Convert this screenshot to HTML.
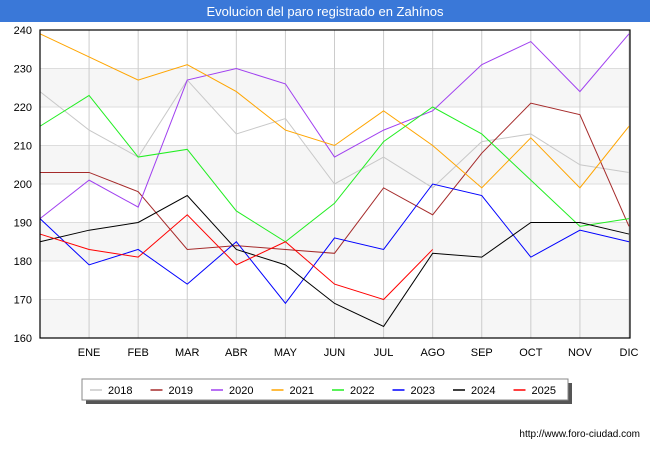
<!DOCTYPE html>
<html><head><meta charset="utf-8"><style>
body{margin:0;width:650px;height:450px;background:#fff;font-family:"Liberation Sans",sans-serif;overflow:hidden}
</style></head><body>
<svg id="c" width="650" height="450" xmlns="http://www.w3.org/2000/svg">
<rect x="0" y="0" width="650" height="22" fill="#3a78d8"/>
<text x="325" y="16" text-anchor="middle" font-size="13" fill="#fff">Evolucion del paro registrado en Zahínos</text>
<g id="grid"></g><g id="lines"></g>
<rect x="40" y="30" width="590" height="308" fill="none" stroke="#000" stroke-width="1.2"/>
<g id="axes"></g>
<rect x="86" y="383" width="486" height="21" fill="#555"/>
<rect x="82" y="379" width="486" height="21" fill="#fff" stroke="#888"/>
<g id="legend"></g>
<text x="640" y="437" text-anchor="end" font-size="10" fill="#000">http://www.foro-ciudad.com</text>
</svg>
<script>
const months=["","ENE","FEB","MAR","ABR","MAY","JUN","JUL","AGO","SEP","OCT","NOV","DIC"];
const yTicks=[160,170,180,190,200,210,220,230,240];
const years=["2018","2019","2020","2021","2022","2023","2024","2025"];
const colors=["#c8c8c8","#a52a2a","#a040f0","#ffa500","#22ee22","#0000ff","#000000","#ff0000"];
const s2018=[224,214,207,227,213,217,200,207,199,211,213,205,203];
const s2019=[203,203,198,183,184,183,182,199,192,208,221,218,189];
const s2020=[191,201,194,227,230,226,207,214,219,231,237,224,239];
const s2021=[239,233,227,231,224,214,210,219,210,199,212,199,215];
const s2022=[215,223,207,209,193,185,195,211,220,213,201,189,191];
const s2023=[191,179,183,174,185,169,186,183,200,197,181,188,185];
const s2024=[185,188,190,197,183,179,169,163,182,181,190,190,187];
const s2025=[187,183,181,192,179,185,174,170,183];
const series=[s2018,s2019,s2020,s2021,s2022,s2023,s2024,s2025];
const NS="http://www.w3.org/2000/svg";
const X=i=>40+i*(589/12), Y=v=>338-(v-160)*308/80;
function mk(t,a,p){const e=document.createElementNS(NS,t);for(const k in a)e.setAttribute(k,a[k]);p.appendChild(e);return e;}
const g=document.getElementById('grid'),ax=document.getElementById('axes'),L=document.getElementById('lines'),lg=document.getElementById('legend');
for(let i=0;i<yTicks.length-1;i+=2){const r=mk('rect',{x:40,y:Y(yTicks[i+1]+0)-0,width:590,height:Y(yTicks[i])-Y(yTicks[i+1]),fill:'#f6f6f6'},g);

}
yTicks.forEach(v=>{const l=mk('line',{x1:40,x2:630,y1:Y(v),y2:Y(v),stroke:'#ddd'},g);


const t=mk('text',{x:32,y:Y(v)+4,'text-anchor':'end','font-size':11},ax);t.textContent=v;

});
months.forEach((m,i)=>{if(i==0)return;const l=mk('line',{x1:X(i),x2:X(i),y1:30,y2:338,stroke:'#ccc'},g);


const t=mk('text',{x:X(i),y:356,'text-anchor':'middle','font-size':11},ax);t.textContent=m;

});
series.forEach((s,k)=>{const p=mk('polyline',{points:s.map((v,i)=>X(i)+','+Y(v)).join(' '),fill:'none',stroke:colors[k],'stroke-width':1},L);


const lx=90+k*60.5;
const ll=mk('line',{x1:lx,x2:lx+12,y1:390,y2:390,stroke:colors[k],'stroke-width':1.5},lg);


const t=mk('text',{x:lx+18,y:394,'font-size':11},lg);t.textContent=years[k];

});
</script>
</body></html>
